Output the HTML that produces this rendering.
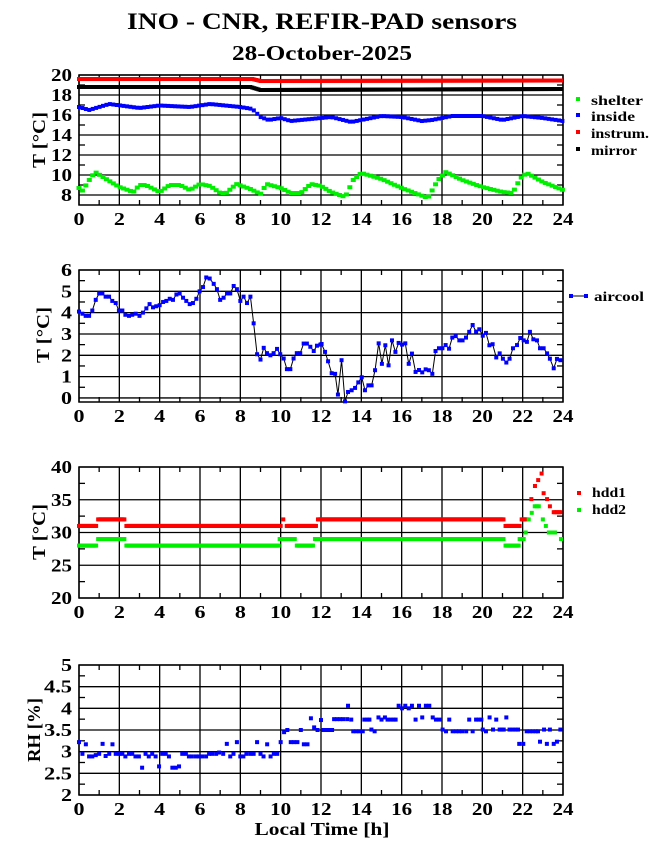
<!DOCTYPE html>
<html><head><meta charset="utf-8"><style>
html,body{margin:0;padding:0;background:#fff;}
svg{display:block;}
text{font-family:"Liberation Serif",serif;font-weight:bold;fill:#000;}
</style></head><body>
<svg id="s" width="655" height="860" xmlns="http://www.w3.org/2000/svg">
<text x="322" y="29" font-size="23" text-anchor="middle" textLength="390" lengthAdjust="spacingAndGlyphs">INO - CNR, REFIR-PAD sensors</text>
<text x="322" y="60" font-size="21" text-anchor="middle" textLength="180" lengthAdjust="spacingAndGlyphs">28-October-2025</text>
<g font-size="18">
<text transform="translate(45,140) rotate(-90)" text-anchor="middle" textLength="56" lengthAdjust="spacingAndGlyphs">T [°C]</text>
<text transform="translate(49,335) rotate(-90)" text-anchor="middle" textLength="56" lengthAdjust="spacingAndGlyphs">T [°C]</text>
<text transform="translate(45,532) rotate(-90)" text-anchor="middle" textLength="56" lengthAdjust="spacingAndGlyphs">T [°C]</text>
<text transform="translate(40,730) rotate(-90)" text-anchor="middle" textLength="64" lengthAdjust="spacingAndGlyphs">RH [%]</text>
<text x="322" y="835" text-anchor="middle" textLength="135" lengthAdjust="spacingAndGlyphs">Local Time [h]</text>
</g>
<g font-size="14">
<text x="591" y="105" textLength="52" lengthAdjust="spacingAndGlyphs">shelter</text>
<text x="591" y="121" textLength="44" lengthAdjust="spacingAndGlyphs">inside</text>
<text x="591" y="138" textLength="58" lengthAdjust="spacingAndGlyphs">instrum.</text>
<text x="591" y="155" textLength="46" lengthAdjust="spacingAndGlyphs">mirror</text>
<text x="594" y="301" textLength="50" lengthAdjust="spacingAndGlyphs">aircool</text>
<text x="592" y="497" textLength="34" lengthAdjust="spacingAndGlyphs">hdd1</text>
<text x="592" y="514" textLength="34" lengthAdjust="spacingAndGlyphs">hdd2</text>
</g>
<rect x="576" y="97" width="4" height="4" fill="#00ee00"/>
<rect x="576" y="113" width="4" height="4" fill="#0000ff"/>
<rect x="576" y="130" width="4" height="4" fill="#ff0000"/>
<rect x="576" y="147" width="4" height="4" fill="#000"/>
<line x1="571" y1="296" x2="585" y2="296" stroke="#000" stroke-width="1"/>
<rect x="569" y="294" width="4" height="4" fill="#0000ff"/>
<rect x="584" y="294" width="4" height="4" fill="#0000ff"/>
<rect x="577" y="491" width="4" height="4" fill="#ff0000"/>
<rect x="577" y="508" width="4" height="4" fill="#00ee00"/>
<g id="g"></g>
<g id="lbl" font-size="18"></g>
</svg>
<script>
var NS="http://www.w3.org/2000/svg",G=document.getElementById('g'),L=document.getElementById('lbl');
function el(t,a,p){var e=document.createElementNS(NS,t);for(var k in a)e.setAttribute(k,a[k]);(p||G).appendChild(e);return e;}
var X0=79,X1=563;function X(h){return X0+h*(X1-X0)/24;}
function panel(top,bot,vmin,vmax,majors,minor,fmt){
 var Y=function(v){return bot-(v-vmin)*(bot-top)/(vmax-vmin);};
 for(var h=0;h<=24;h+=2){el('line',{x1:X(h),y1:top,x2:X(h),y2:bot,stroke:'#000','stroke-width':1.3});}
 for(var h=1;h<24;h+=2){el('line',{x1:X(h),y1:top,x2:X(h),y2:top+5,stroke:'#000','stroke-width':1.3});el('line',{x1:X(h),y1:bot,x2:X(h),y2:bot-5,stroke:'#000','stroke-width':1.3});}
 majors.forEach(function(v){el('line',{x1:X0,y1:Y(v),x2:X1,y2:Y(v),stroke:'#000','stroke-width':1.3});
  var s=fmt(v)+'';var t=el('text',{x:72,y:Y(v)+6,'text-anchor':'end',textLength:s.length==1?11:(s.length==2?21:28),lengthAdjust:'spacingAndGlyphs'},L);t.textContent=s;});
 minor.forEach(function(v){el('line',{x1:X0,y1:Y(v),x2:X0+6,y2:Y(v),stroke:'#000','stroke-width':1.3});el('line',{x1:X1,y1:Y(v),x2:X1-6,y2:Y(v),stroke:'#000','stroke-width':1.3});});
 el('rect',{x:X0,y:top,width:X1-X0,height:bot-top,fill:'none',stroke:'#000','stroke-width':1.5});
 for(var h=0;h<=24;h+=2){var s=h+'';var t=el('text',{x:X(h),y:bot+20,'text-anchor':'middle',textLength:s.length==1?11:21,lengthAdjust:'spacingAndGlyphs'},L);t.textContent=s;}
 return Y;}
function interp(pts,h){for(var i=0;i<pts.length-1;i++){if(h>=pts[i][0]&&h<=pts[i+1][0]){var a=pts[i],b=pts[i+1];return a[1]+(b[1]-a[1])*(h-a[0])/(b[0]-a[0]||1);}}return pts[pts.length-1][1];}
function sq(x,y,c,w,hh){w=w||4;hh=hh||4;el('rect',{x:x-w/2,y:y-hh/2,width:w,height:hh,fill:c});}
var Y1=panel(75,205,7,20,[8,10,12,14,16,18,20],[9,11,13,15,17,19],function(v){return v;});
var red=[[0,19.6],[8.6,19.6],[9,19.4],[24,19.45]],blk=[[0,18.8],[8.5,18.8],[9,18.5],[24,18.6]];
var blu=[[0,16.8],[0.5,16.5],[1.5,17.1],[3,16.7],[4,16.95],[5.5,16.8],[6.5,17.1],[8,16.8],[8.6,16.6],[9,15.8],[9.4,15.5],[10,15.7],[10.5,15.4],[12,15.7],[12.5,15.8],[13.5,15.3],[15,15.9],[16,15.8],[17,15.4],[17.5,15.5],[18.5,15.9],[20,15.9],[21,15.5],[22,15.9],[23,15.7],[24,15.4]];
for(var h=0;h<=24;h+=0.1){sq(X(h),Y1(interp(red,h)),'#ff0000',4,4);sq(X(h),Y1(interp(blk,h)),'#000',4,4);}
for(var h=0;h<=24;h+=0.17){sq(X(h),Y1(interp(blu,h)),'#0000ff',4,4);}
var grn=[[0,8.7],[0.2,8.4],[0.4,9.2],[0.8,10.3],[1.5,9.4],[2,8.8],[2.7,8.3],[3,9.0],[3.3,9.0],[4,8.3],[4.5,9.0],[5,9.0],[5.5,8.5],[6,9.1],[6.5,8.9],[7,8.2],[7.3,8.2],[7.8,9.1],[8.5,8.6],[9,8.1],[9.3,9.1],[10,8.7],[10.5,8.2],[11,8.2],[11.5,9.1],[12,8.9],[12.5,8.3],[13.2,7.8],[13.6,9.5],[14,10.2],[15,9.6],[16,8.7],[17.3,7.7],[17.8,9.5],[18.2,10.3],[19,9.5],[20,8.8],[21,8.3],[21.5,8.2],[21.9,9.7],[22.2,10.2],[23,9.3],[24,8.5]];
for(var h=0;h<=24;h+=0.17){sq(X(h),Y1(interp(grn,h)),'#00ee00',5,4);}
var Y2=panel(270,402,-0.19,6,[0,1,2,3,4,5,6],[0.5,1.5,2.5,3.5,4.5,5.5],function(v){return v;});
var ac=[[0,4.05],[.17,3.95],[.33,3.85],[.5,3.85],[.66,4.1],[.83,4.6],[1,4.9],[1.16,4.9],[1.32,4.75],[1.49,4.75],[1.65,4.55],[1.82,4.45],[1.98,4.1],[2.15,4.1],[2.3,3.9],[2.48,3.85],[2.64,3.9],[2.81,3.95],[3,3.85],[3.17,4.0],[3.34,4.2],[3.5,4.4],[3.67,4.25],[3.83,4.3],[4,4.35],[4.17,4.5],[4.33,4.55],[4.5,4.65],[4.66,4.6],[4.83,4.85],[4.99,4.9],[5.16,4.7],[5.32,4.55],[5.49,4.4],[5.65,4.45],[5.82,4.65],[5.98,5.0],[6.15,5.2],[6.31,5.65],[6.48,5.6],[6.68,5.35],[6.84,5.1],[7,4.6],[7.17,4.7],[7.34,4.9],[7.5,4.9],[7.67,5.25],[7.83,5.1],[8,4.55],[8.16,4.75],[8.33,4.45],[8.5,4.75],[8.66,3.5],[8.83,2.05],[9,1.8],[9.16,2.35],[9.32,2.1],[9.49,2.0],[9.65,2.1],[9.82,2.3],[9.98,2.05],[10.15,1.85],[10.31,1.35],[10.48,1.35],[10.64,1.85],[10.8,2.1],[10.97,2.1],[11.14,2.55],[11.3,2.55],[11.47,2.4],[11.64,2.2],[11.8,2.45],[11.97,2.5],
[12.03,2.53],[12.2,2.16],[12.35,1.72],[12.53,1.16],[12.7,1.13],[12.84,.16],[13.02,1.77],[13.19,-.16],[13.34,.28],[13.52,.36],[13.69,.47],[13.85,.73],[14.02,.97],[14.18,.36],[14.35,.59],[14.51,.59],[14.68,1.3],[14.86,2.56],[15.02,1.6],[15.19,2.47],[15.35,1.53],[15.52,2.7],[15.69,2.16],[15.85,2.58],[16.02,2.5],[16.18,2.56],[16.35,1.6],[16.51,2.08],[16.69,1.22],[16.86,1.31],[17.02,1.2],[17.19,1.34],[17.35,1.3],[17.52,1.13],[17.68,2.2],[17.85,2.33],[18.02,2.33],[18.18,2.48],[18.35,2.31],[18.51,2.83],[18.68,2.9],[18.86,2.7],[19.02,2.7],[19.19,2.83],[19.35,3.1],[19.52,3.42],[19.69,3.11],[19.85,3.22],[20.02,2.92],[20.18,3.05],[20.35,2.47],[20.51,2.52],[20.69,1.9],[20.86,2.09],[21.02,1.84],[21.19,1.66],[21.35,1.84],[21.52,2.33],[21.72,2.48],[21.88,2.81],[22.05,2.7],[22.21,2.63],[22.36,3.1],[22.53,2.75],[22.71,2.7],[22.86,2.33],[23.04,2.33],[23.21,2.09],[23.35,1.84],[23.54,1.39],[23.7,1.83],[23.87,1.77]];
el('polyline',{points:ac.map(function(p){return X(p[0])+','+Y2(p[1]);}).join(' '),fill:'none',stroke:'#000','stroke-width':1});
ac.forEach(function(p){sq(X(p[0]),Y2(p[1]),'#0000ff',4,4);});
var Y3=panel(467,598,20,40,[20,25,30,35,40],[22.5,27.5,32.5,37.5],function(v){return v;});
function seg(a,b,v,c){for(var h=a;h<=b+0.001;h+=0.05)sq(X(h),Y3(v),c,4,4);}
var R='#ff0000',Gr='#00ee00';
seg(0,0.85,31,R);seg(0.95,2.25,32,R);seg(2.35,10.0,31,R);seg(10.13,10.15,32,R);seg(10.3,11.75,31,R);seg(11.85,21.05,32,R);seg(21.15,21.85,31,R);seg(21.95,22.2,32,R);
[[22.43,35.1],[22.61,37.1],[22.77,38],[22.94,39],[23.04,36],[23.21,35.1],[23.35,34],[23.54,33.1],[23.62,33.1],[23.7,33.1],[23.8,33.1],[23.87,33.1]].forEach(function(p){sq(X(p[0]),Y3(p[1]),R,4,4);});
seg(0,0.85,28,Gr);seg(0.95,2.25,29,Gr);seg(2.35,9.9,28,Gr);seg(9.95,10.7,29,Gr);seg(10.8,11.6,28,Gr);seg(11.7,21.05,29,Gr);seg(21.15,21.8,28,Gr);seg(21.85,22.05,29,Gr);
[[22.15,30],[22.3,32],[22.45,33],[22.6,34],[22.7,34],[22.8,34],[23.0,32],[23.15,31],[23.3,30],[23.4,30],[23.5,30],[23.6,30],[23.9,29]].forEach(function(p){sq(X(p[0]),Y3(p[1]),Gr,4,4);});
var Y4=panel(665,795,2,5,[2,2.5,3,3.5,4,4.5,5],[2.25,2.75,3.25,3.75,4.25,4.75],function(v){return v;});
var rh=[[0,3.22],[.17,2.95],[.34,3.17],[.5,2.89],[.66,2.89],[.83,2.92],[1,2.95],[1.17,3.18],[1.32,2.9],[1.5,2.95],[1.66,3.17],[1.82,2.95],[2,2.95],[2.15,2.95],[2.3,2.89],[2.48,2.95],[2.64,2.95],[2.8,2.89],[2.97,2.89],[3.13,2.63],[3.3,2.95],[3.46,2.89],[3.63,2.95],[3.8,2.89],[3.97,2.66],[4.13,2.95],[4.3,2.95],[4.46,2.89],[4.63,2.63],[4.8,2.63],[4.96,2.66],[5.12,2.95],[5.3,2.95],[5.45,2.89],[5.6,2.89],[5.8,2.89],[5.95,2.89],[6.1,2.89],[6.3,2.89],[6.45,2.95],[6.6,2.95],[6.8,2.95],[6.95,2.98],[7.15,2.95],[7.33,3.18],[7.5,2.89],[7.66,2.95],[7.83,3.22],[8,2.89],[8.15,2.89],[8.3,2.95],[8.5,2.95],[8.66,2.95],[8.83,3.22],[9,2.95],[9.15,2.89],[9.33,3.17],[9.5,2.89],[9.66,2.95],[9.83,2.95],[10.0,3.22],[10.17,3.45],[10.33,3.5],[10.5,3.22],[10.66,3.22],[10.83,3.22],[11,3.5],[11.15,3.17],[11.33,3.17],[11.5,3.77],[11.66,3.56],[11.83,3.5],[12,3.73],[12.1,3.5],[12.25,3.5],[12.4,3.5],[12.55,3.5],[12.65,3.75],[12.8,3.75],[12.95,3.75],[13.1,3.75],[13.3,3.75],[13.34,4.06],[13.5,3.74],[13.6,3.47],[13.75,3.47],[13.9,3.47],[14.07,3.47],[14.15,3.74],[14.3,3.74],[14.4,3.74],[14.5,3.51],[14.66,3.47],[14.85,3.79],[15,3.74],[15.17,3.79],[15.3,3.74],[15.45,3.74],[15.6,3.74],[15.7,3.74],[15.85,4.06],[16.02,4.0],[16.18,4.06],[16.35,4.0],[16.51,4.06],[16.69,3.74],[16.86,4.06],[17.02,3.79],[17.2,4.06],[17.37,4.06],[17.54,3.79],[17.7,3.74],[17.87,3.74],[18.03,3.51],[18.2,3.47],[18.36,3.74],[18.53,3.47],[18.7,3.47],[18.85,3.47],[19.0,3.47],[19.2,3.47],[19.35,3.74],[19.52,3.47],[19.69,3.74],[19.82,3.74],[19.95,3.74],[20.02,3.51],[20.18,3.47],[20.36,3.79],[20.53,3.51],[20.69,3.74],[20.86,3.51],[20.96,3.51],[21.06,3.51],[21.19,3.79],[21.35,3.51],[21.5,3.51],[21.65,3.51],[21.77,3.51],[21.83,3.18],[22.03,3.18],[22.2,3.47],[22.35,3.47],[22.5,3.47],[22.65,3.47],[22.76,3.47],[22.86,3.23],[23.06,3.51],[23.2,3.18],[23.35,3.51],[23.54,3.18],[23.7,3.23],[23.87,3.51]];
rh.forEach(function(p){sq(X(p[0]),Y4(p[1]),'#0000ff',4,4);});
</script>
</body></html>
